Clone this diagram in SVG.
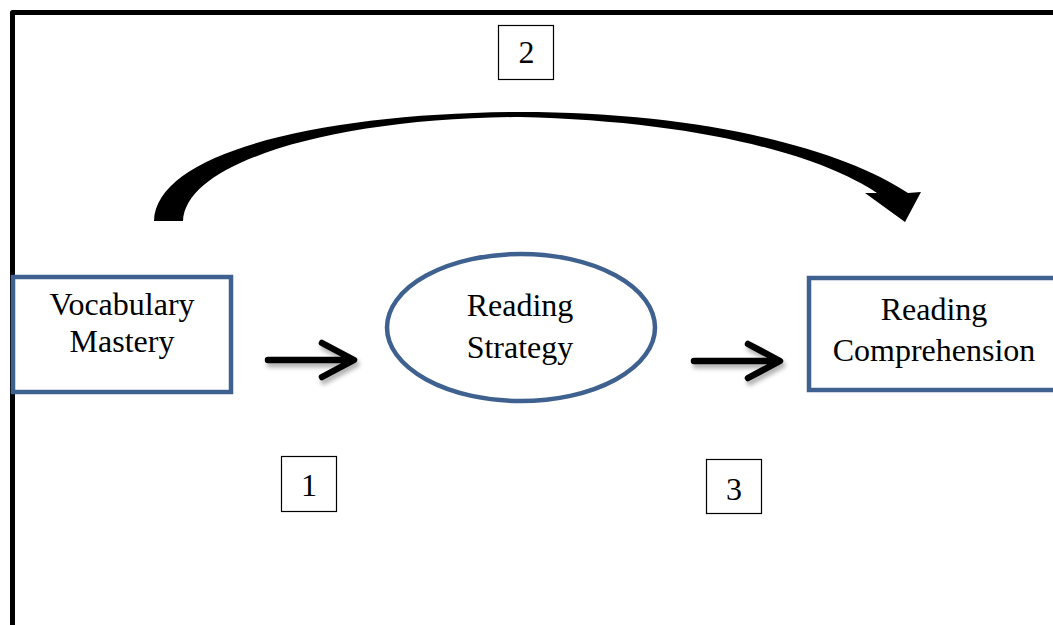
<svg xmlns="http://www.w3.org/2000/svg" width="1053" height="625" viewBox="0 0 1053 625">
  <defs>
    <style>
      .node { fill: #ffffff; stroke: #3F6190; stroke-width: 4.5; }
      .lbl { fill: #ffffff; stroke: #000000; stroke-width: 1.2; }
      .t { font-family: "Liberation Serif", "Times New Roman", serif; font-size: 32px; fill: #000000; text-anchor: middle; }
      .arr { fill: none; stroke: #000000; stroke-width: 6.5; stroke-linecap: round; stroke-linejoin: round; }
      .shadow { fill: none; stroke: #808080; stroke-width: 7; stroke-linecap: round; stroke-linejoin: round; opacity: 0.6; }
    </style>
    <filter id="blur" x="-20%" y="-50%" width="140%" height="200%">
      <feGaussianBlur stdDeviation="2"/>
    </filter>
  </defs>
  <rect width="1053" height="625" fill="#ffffff"/>

  <g id="frame">
    <path d="M12.5,640 V12.5 H1080" fill="none" stroke="#000000" stroke-width="5" stroke-linejoin="round"/>
  </g>

  <g id="connectors">
    <path id="arrow-2" d="M154,221 C156,150 330,113 520,112 C700,112 840,148 908,193 L921,192 L905,222 L865,193 L877,193 C815,152 690,121 520,117 C340,118 186,160 183,221 Z" fill="#000000"/>
    <g id="arrow-1">
      <g filter="url(#blur)" transform="translate(2,4)">
        <path class="shadow" d="M268,360 H350 M322,343 L354,360 L322,377"/>
      </g>
      <path class="arr" d="M268,360 H350 M322,343 L354,360 L322,377"/>
    </g>
    <g id="arrow-3">
      <g filter="url(#blur)" transform="translate(2,4)">
        <path class="shadow" d="M694,361 H776 M748,344 L780,361 L748,378"/>
      </g>
      <path class="arr" d="M694,361 H776 M748,344 L780,361 L748,378"/>
    </g>
  </g>

  <g id="node-vocabulary">
    <rect class="node" x="13" y="277" width="218" height="115"/>
    <text class="t" x="122" y="315">Vocabulary</text>
    <text class="t" x="122" y="352">Mastery</text>
  </g>

  <g id="node-strategy">
    <ellipse class="node" cx="521" cy="327.5" rx="134" ry="73.5"/>
    <text class="t" x="520" y="316">Reading</text>
    <text class="t" x="520" y="358">Strategy</text>
  </g>

  <g id="node-comprehension">
    <rect class="node" x="809" y="278" width="260" height="112"/>
    <text class="t" x="934" y="320">Reading</text>
    <text class="t" x="934" y="361">Comprehension</text>
  </g>

  <g id="label-2">
    <rect class="lbl" x="498.5" y="25.5" width="55" height="54"/>
    <text class="t" x="526.5" y="63">2</text>
  </g>

  <g id="label-1">
    <rect class="lbl" x="281.5" y="456.5" width="55" height="55"/>
    <text class="t" x="309" y="496">1</text>
  </g>

  <g id="label-3">
    <rect class="lbl" x="706.5" y="459.5" width="55" height="54"/>
    <text class="t" x="734" y="500">3</text>
  </g>
</svg>
